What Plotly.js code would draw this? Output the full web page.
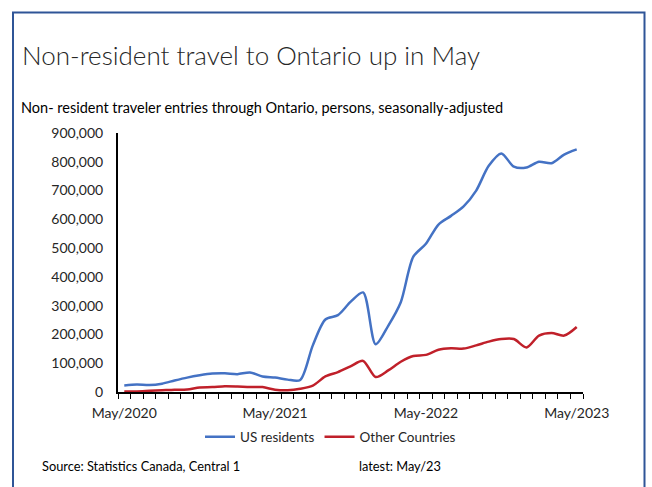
<!DOCTYPE html>
<html>
<head>
<meta charset="utf-8">
<script src="https://cdn.plot.ly/plotly-3.0.1.min.js"></script>
<style>html,body{margin:0;padding:0;background:#fff;}#chart{width:652px;height:487px;}</style>
</head>
<body>
<div id="chart"></div>
<script>
// Month index 0 = May 2020 ... 36 = May 2023
const months = Array.from({length: 37}, (_, i) => i);
const tickPositions = [0, 12, 24, 36];
const tickLabels = ["May/2020", "May/2021", "May-2022", "May/2023"];

const usResidents = [
  23000, 26000, 24000, 29000, 40000, 50000, 58000, 64000, 65000, 62000,
  68000, 54000, 50000, 43000, 42000, 162000, 252000, 267000, 313000, 346000,
  166000, 230000, 312000, 470000, 515000, 582000, 612000, 645000, 700000, 786000,
  829000, 783000, 780000, 800000, 795000, 825000, 843000
];
const otherCountries = [
  2000, 2000, 4000, 6000, 8000, 9000, 16000, 17000, 20000, 19000,
  17000, 17000, 8000, 6000, 11000, 22000, 54000, 69000, 89000, 108000,
  52000, 75000, 105000, 125000, 129000, 147000, 152000, 151000, 162000, 175000,
  184000, 184000, 155000, 196000, 205000, 196000, 226000
];

const FONT = "Lato, 'Open Sans', sans-serif";

const traces = [
  {x: months, y: usResidents, name: "US residents", type: "scatter", mode: "lines",
   line: {color: "#4472C4", width: 2.5, shape: "spline", smoothing: 0.8}, hoverinfo: "skip"},
  {x: months, y: otherCountries, name: "Other Countries", type: "scatter", mode: "lines",
   line: {color: "#C0202A", width: 2.5, shape: "spline", smoothing: 0.8}, hoverinfo: "skip"}
];

const layout = {
  width: 652, height: 487,
  margin: {l: 118, r: 69, t: 133, b: 95},
  paper_bgcolor: "#fff", plot_bgcolor: "#fff",
  font: {family: FONT, color: "#262626", size: 14},
  title: {text: "Non-resident travel to Ontario up in May", font: {family: FONT, size: 26, weight: 300, color: "#262626"},
          x: 22/652, xref: "container", xanchor: "left", y: 1 - 56/487, yref: "container", yanchor: "middle"},
  xaxis: {type: "linear", range: [-0.5, 36.5], showgrid: false, zeroline: false,
          showline: true, linecolor: "#000", linewidth: 2,
          tickmode: "array", tickvals: tickPositions, ticktext: tickLabels, ticks: "",
          ticklabelstandoff: 7, tickfont: {size: 14, color: "#262626"},
          minor: {ticks: "outside", tickmode: "linear", tick0: -0.5, dtick: 1, ticklen: 5, tickwidth: 1, tickcolor: "#000", showgrid: false}},
  yaxis: {range: [0, 900000], dtick: 100000, tick0: 0, tickformat: ",d", showgrid: false, zeroline: false,
          showline: true, linecolor: "#000", linewidth: 2, ticks: "",
          ticklabelstandoff: 10, tickfont: {size: 14, color: "#262626"}},
  showlegend: true,
  legend: {orientation: "h", x: (200-118)/465, xanchor: "left", y: (392-437)/259, yanchor: "middle",
           font: {size: 13.5, color: "#262626"}, bgcolor: "rgba(0,0,0,0)", itemwidth: 30, tracegroupgap: 0},
  annotations: [
    {text: "Non- resident traveler entries through Ontario, persons, seasonally-adjusted", xref: "paper", yref: "paper",
     x: (19-118)/465, y: (392-107)/259, xanchor: "left", yanchor: "middle", showarrow: false, font: {size: 14.5, color: "#000"}},
    {text: "Source: Statistics Canada, Central 1", xref: "paper", yref: "paper",
     x: (40-118)/465, y: (392-466)/259, xanchor: "left", yanchor: "middle", showarrow: false, font: {size: 12.8, color: "#000"}},
    {text: "latest: May/23", xref: "paper", yref: "paper",
     x: (357-118)/465, y: (392-466)/259, xanchor: "left", yanchor: "middle", showarrow: false, font: {size: 12.8, color: "#000"}}
  ],
  shapes: [
    {type: "rect", xref: "paper", yref: "paper", x0: (13-118)/465, x1: (644.5-118)/465, y0: -0.6, y1: (392-12.5)/259,
     line: {color: "#2F5597", width: 2}, fillcolor: "rgba(0,0,0,0)", layer: "below"}
  ]
};

Plotly.newPlot("chart", traces, layout, {staticPlot: true, displayModeBar: false});
</script>
</body>
</html>
